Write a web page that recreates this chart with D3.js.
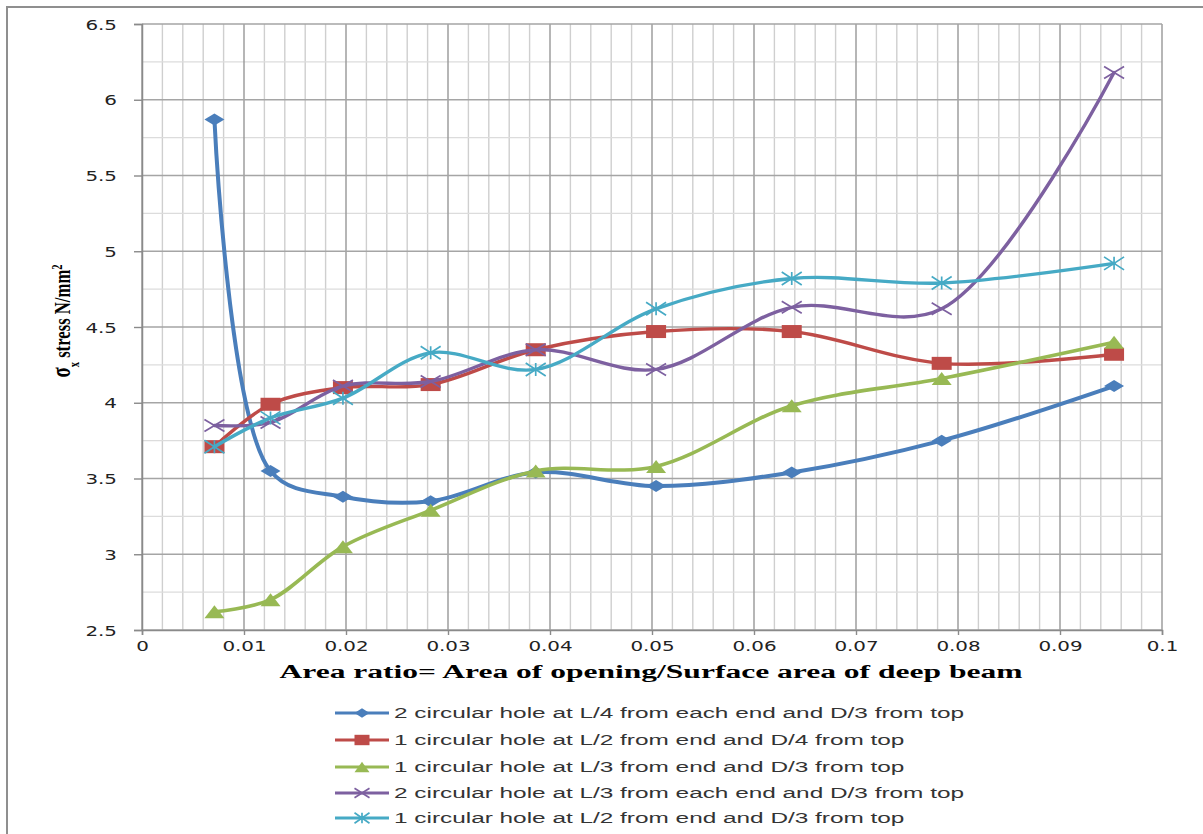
<!DOCTYPE html>
<html>
<head>
<meta charset="utf-8">
<script src="https://cdn.jsdelivr.net/npm/d3@7"></script>
<style>
  body { margin: 0; background: #fff; }
  svg { display: block; }
</style>
</head>
<body>
<svg id="chart" width="1203" height="834"></svg>
<script>
// Area ratio (area of opening / surface area of deep beam)
const areaRatio = [0.0071, 0.0126, 0.0197, 0.0283, 0.0386, 0.0504, 0.0637, 0.0784, 0.0953];

// sigma-x stress (N/mm2) for each opening arrangement
const holeL4EachEnd = [5.87, 3.55, 3.38, 3.35, 3.54, 3.45, 3.54, 3.75, 4.11];
const holeL2D4      = [3.71, 3.99, 4.10, 4.12, 4.35, 4.47, 4.47, 4.26, 4.32];
const holeL3D3      = [2.62, 2.70, 3.05, 3.29, 3.55, 3.58, 3.98, 4.16, 4.40];
const holeL3EachEnd = [3.85, 3.87, 4.11, 4.14, 4.35, 4.22, 4.63, 4.62, 6.18];
const holeL2D3      = [3.71, 3.90, 4.03, 4.33, 4.22, 4.62, 4.82, 4.79, 4.92];

const seriesNames = [
  "2 circular hole at L/4 from each end and D/3 from top",
  "1 circular hole at L/2 from end and D/4 from top",
  "1 circular hole at L/3 from end and D/3 from top",
  "2 circular hole at L/3 from each end and D/3 from top",
  "1 circular hole at L/2 from end and D/3 from top"
];

const xTickValues = [0, 0.01, 0.02, 0.03, 0.04, 0.05, 0.06, 0.07, 0.08, 0.09, 0.1];
const xTickLabels = ["0", "0.01", "0.02", "0.03", "0.04", "0.05", "0.06", "0.07", "0.08", "0.09", "0.1"];
const yTickValues = [2.5, 3, 3.5, 4, 4.5, 5, 5.5, 6, 6.5];
const yTickLabels = ["2.5", "3", "3.5", "4", "4.5", "5", "5.5", "6", "6.5"];

const xTitle = "Area ratio= Area of opening/Surface area of deep beam";

// ---- styling ----
const colors = ["#4A7EBB", "#BE4B48", "#98B954", "#7D60A0", "#46AAC5"];
const markerKinds = ["diamond", "square", "triangle", "cross", "star"];
const lineWidths = [4, 3.4, 3.6, 3.4, 3.4];

const svg = d3.select("#chart");
const plot = { left: 142, right: 1162, top: 24, bottom: 630 };

const x = d3.scaleLinear().domain([0, 0.1]).range([plot.left, plot.right]);
const y = d3.scaleLinear().domain([2.5, 6.5]).range([plot.bottom, plot.top]);

// outer chart frame
svg.append("rect")
  .attr("x", 7).attr("y", 7).attr("width", 1210).attr("height", 840)
  .attr("fill", "none").attr("stroke", "#8f8f8f").attr("stroke-width", 2);

// ---- gridlines ----
const grid = svg.append("g");
const xMinor = d3.range(0, 51).map(i => i * 0.002);
const yMinor = d3.range(0, 17).map(i => 2.5 + i * 0.25);

grid.selectAll("line.vminor").data(xMinor.filter((d, i) => i % 5 !== 0)).join("line")
  .attr("x1", d => x(d)).attr("x2", d => x(d))
  .attr("y1", plot.top).attr("y2", plot.bottom)
  .attr("stroke", "#cfcfcf").attr("stroke-width", 1.4);
grid.selectAll("line.hminor").data(yMinor.filter((d, i) => i % 2 !== 0)).join("line")
  .attr("x1", plot.left).attr("x2", plot.right)
  .attr("y1", d => y(d)).attr("y2", d => y(d))
  .attr("stroke", "#dcdcdc").attr("stroke-width", 1.4);
grid.selectAll("line.vmajor").data(xTickValues).join("line")
  .attr("x1", d => x(d)).attr("x2", d => x(d))
  .attr("y1", plot.top).attr("y2", plot.bottom)
  .attr("stroke", "#979797").attr("stroke-width", 1.4);
grid.selectAll("line.hmajor").data(yTickValues).join("line")
  .attr("x1", plot.left).attr("x2", plot.right)
  .attr("y1", d => y(d)).attr("y2", d => y(d))
  .attr("stroke", "#a5a5a5").attr("stroke-width", 1.4);

// ---- axes ----
const stretchText = (sel, k) => sel.each(function () {
  const w = this.getComputedTextLength();
  d3.select(this).attr("textLength", w * k).attr("lengthAdjust", "spacingAndGlyphs");
});

const xAxis = svg.append("g")
  .attr("transform", `translate(0,${plot.bottom})`)
  .call(d3.axisBottom(x).tickValues(xTickValues)
    .tickFormat((d, i) => xTickLabels[i]).tickSize(5).tickPadding(6));
const yAxis = svg.append("g")
  .attr("transform", `translate(${plot.left},0)`)
  .call(d3.axisLeft(y).tickValues(yTickValues)
    .tickFormat((d, i) => yTickLabels[i]).tickSize(8).tickPadding(17));

[xAxis, yAxis].forEach(ax => {
  ax.select(".domain").attr("stroke", "#8a8a8a").attr("stroke-width", 1.5);
  ax.selectAll(".tick line").attr("stroke", "#8a8a8a").attr("stroke-width", 1.4);
  ax.selectAll(".tick text")
    .attr("fill", "#222").style("font-family", "'DejaVu Sans', Verdana, sans-serif")
    .style("font-size", "14px");
});
xAxis.selectAll(".tick text").call(stretchText, 1.42);
yAxis.selectAll(".tick text").call(stretchText, 1.42);
yAxis.selectAll(".tick text").attr("dy", "0.36em");

// ---- axis titles ----
svg.append("text")
  .attr("x", 651).attr("y", 678)
  .attr("text-anchor", "middle")
  .style("font-family", "'Liberation Serif', 'Times New Roman', serif")
  .style("font-weight", "bold").style("font-size", "18.5px")
  .attr("fill", "#000")
  .attr("textLength", 743).attr("lengthAdjust", "spacingAndGlyphs")
  .text(xTitle);

const yTitleG = svg.append("g");
const yTitle = yTitleG.append("text")
  .attr("text-anchor", "middle")
  .style("font-family", "'Liberation Serif', 'Times New Roman', serif")
  .style("font-weight", "bold").style("font-size", "24px")
  .attr("fill", "#000");
yTitle.append("tspan").style("font-size", "27px").text("σ");
yTitle.append("tspan").attr("baseline-shift", "sub").style("font-size", "15px").text("x");
yTitle.append("tspan").text(" stress N/mm");
yTitle.append("tspan").attr("baseline-shift", "super").style("font-size", "15px").text("2");
const yTitleW = yTitle.node().getBBox().width;
yTitleG.attr("transform", `translate(70,321) rotate(-90) scale(${113 / yTitleW},1)`);

// ---- markers ----
function drawMarker(g, kind, color, w, h) {
  const hw = w / 2, hh = h / 2;
  if (kind === "diamond") {
    g.append("path").attr("d", `M${-hw},0L0,${-hh}L${hw},0L0,${hh}Z`).attr("fill", color);
  } else if (kind === "square") {
    g.append("rect").attr("x", -hw).attr("y", -hh).attr("width", w).attr("height", h).attr("fill", color);
  } else if (kind === "triangle") {
    g.append("path").attr("d", `M${-hw},${hh}L0,${-hh}L${hw},${hh}Z`).attr("fill", color);
  } else if (kind === "cross") {
    g.append("path").attr("d", `M${-hw},${-hh}L${hw},${hh}M${-hw},${hh}L${hw},${-hh}`)
      .attr("stroke", color).attr("stroke-width", 1.7).attr("fill", "none");
  } else if (kind === "star") {
    g.append("path").attr("d", `M${-hw},${-hh}L${hw},${hh}M${-hw},${hh}L${hw},${-hh}M0,${-hh}L0,${hh}`)
      .attr("stroke", color).attr("stroke-width", 1.7).attr("fill", "none");
  }
}
const markerSize = {
  diamond: [20, 12], square: [20, 13], triangle: [20, 13], cross: [20, 12], star: [20, 13]
};

// ---- series ----
const allSeries = [holeL4EachEnd, holeL2D4, holeL3D3, holeL3EachEnd, holeL2D3];
const line = d3.line()
  .x(d => x(d[0])).y(d => y(d[1]))
  .curve(d3.curveCatmullRom.alpha(0.5));

allSeries.forEach((vals, si) => {
  const pts = areaRatio.map((a, i) => [a, vals[i]]);
  const g = svg.append("g");
  g.append("path").datum(pts)
    .attr("d", line).attr("fill", "none")
    .attr("stroke", colors[si]).attr("stroke-width", lineWidths[si])
    .attr("stroke-linejoin", "round").attr("stroke-linecap", "round");
  pts.forEach(p => {
    const mg = g.append("g").attr("transform", `translate(${x(p[0])},${y(p[1])})`);
    const [w, h] = markerSize[markerKinds[si]];
    drawMarker(mg, markerKinds[si], colors[si], w, h);
  });
});

// ---- legend ----
const legendRows = [713, 740, 767, 793, 818];
const legend = svg.append("g");
const legendTexts = [];
seriesNames.forEach((name, i) => {
  const cy = legendRows[i];
  legend.append("line").attr("x1", 335).attr("x2", 389).attr("y1", cy).attr("y2", cy)
    .attr("stroke", colors[i]).attr("stroke-width", 3.2);
  const mg = legend.append("g").attr("transform", `translate(362,${cy})`);
  const [w, h] = markerSize[markerKinds[i]];
  drawMarker(mg, markerKinds[i], colors[i], w * 0.75, h * 0.8);
  legendTexts.push(legend.append("text")
    .attr("x", 394).attr("y", cy + 5)
    .attr("fill", "#333")
    .style("font-family", "'Liberation Sans', Arial, sans-serif")
    .style("font-size", "14px")
    .text(name));
});
const longest = d3.max(legendTexts, t => t.node().getComputedTextLength());
const legendK = 570 / longest;
legendTexts.forEach(t => t.call(stretchText, legendK));
</script>
</body>
</html>
